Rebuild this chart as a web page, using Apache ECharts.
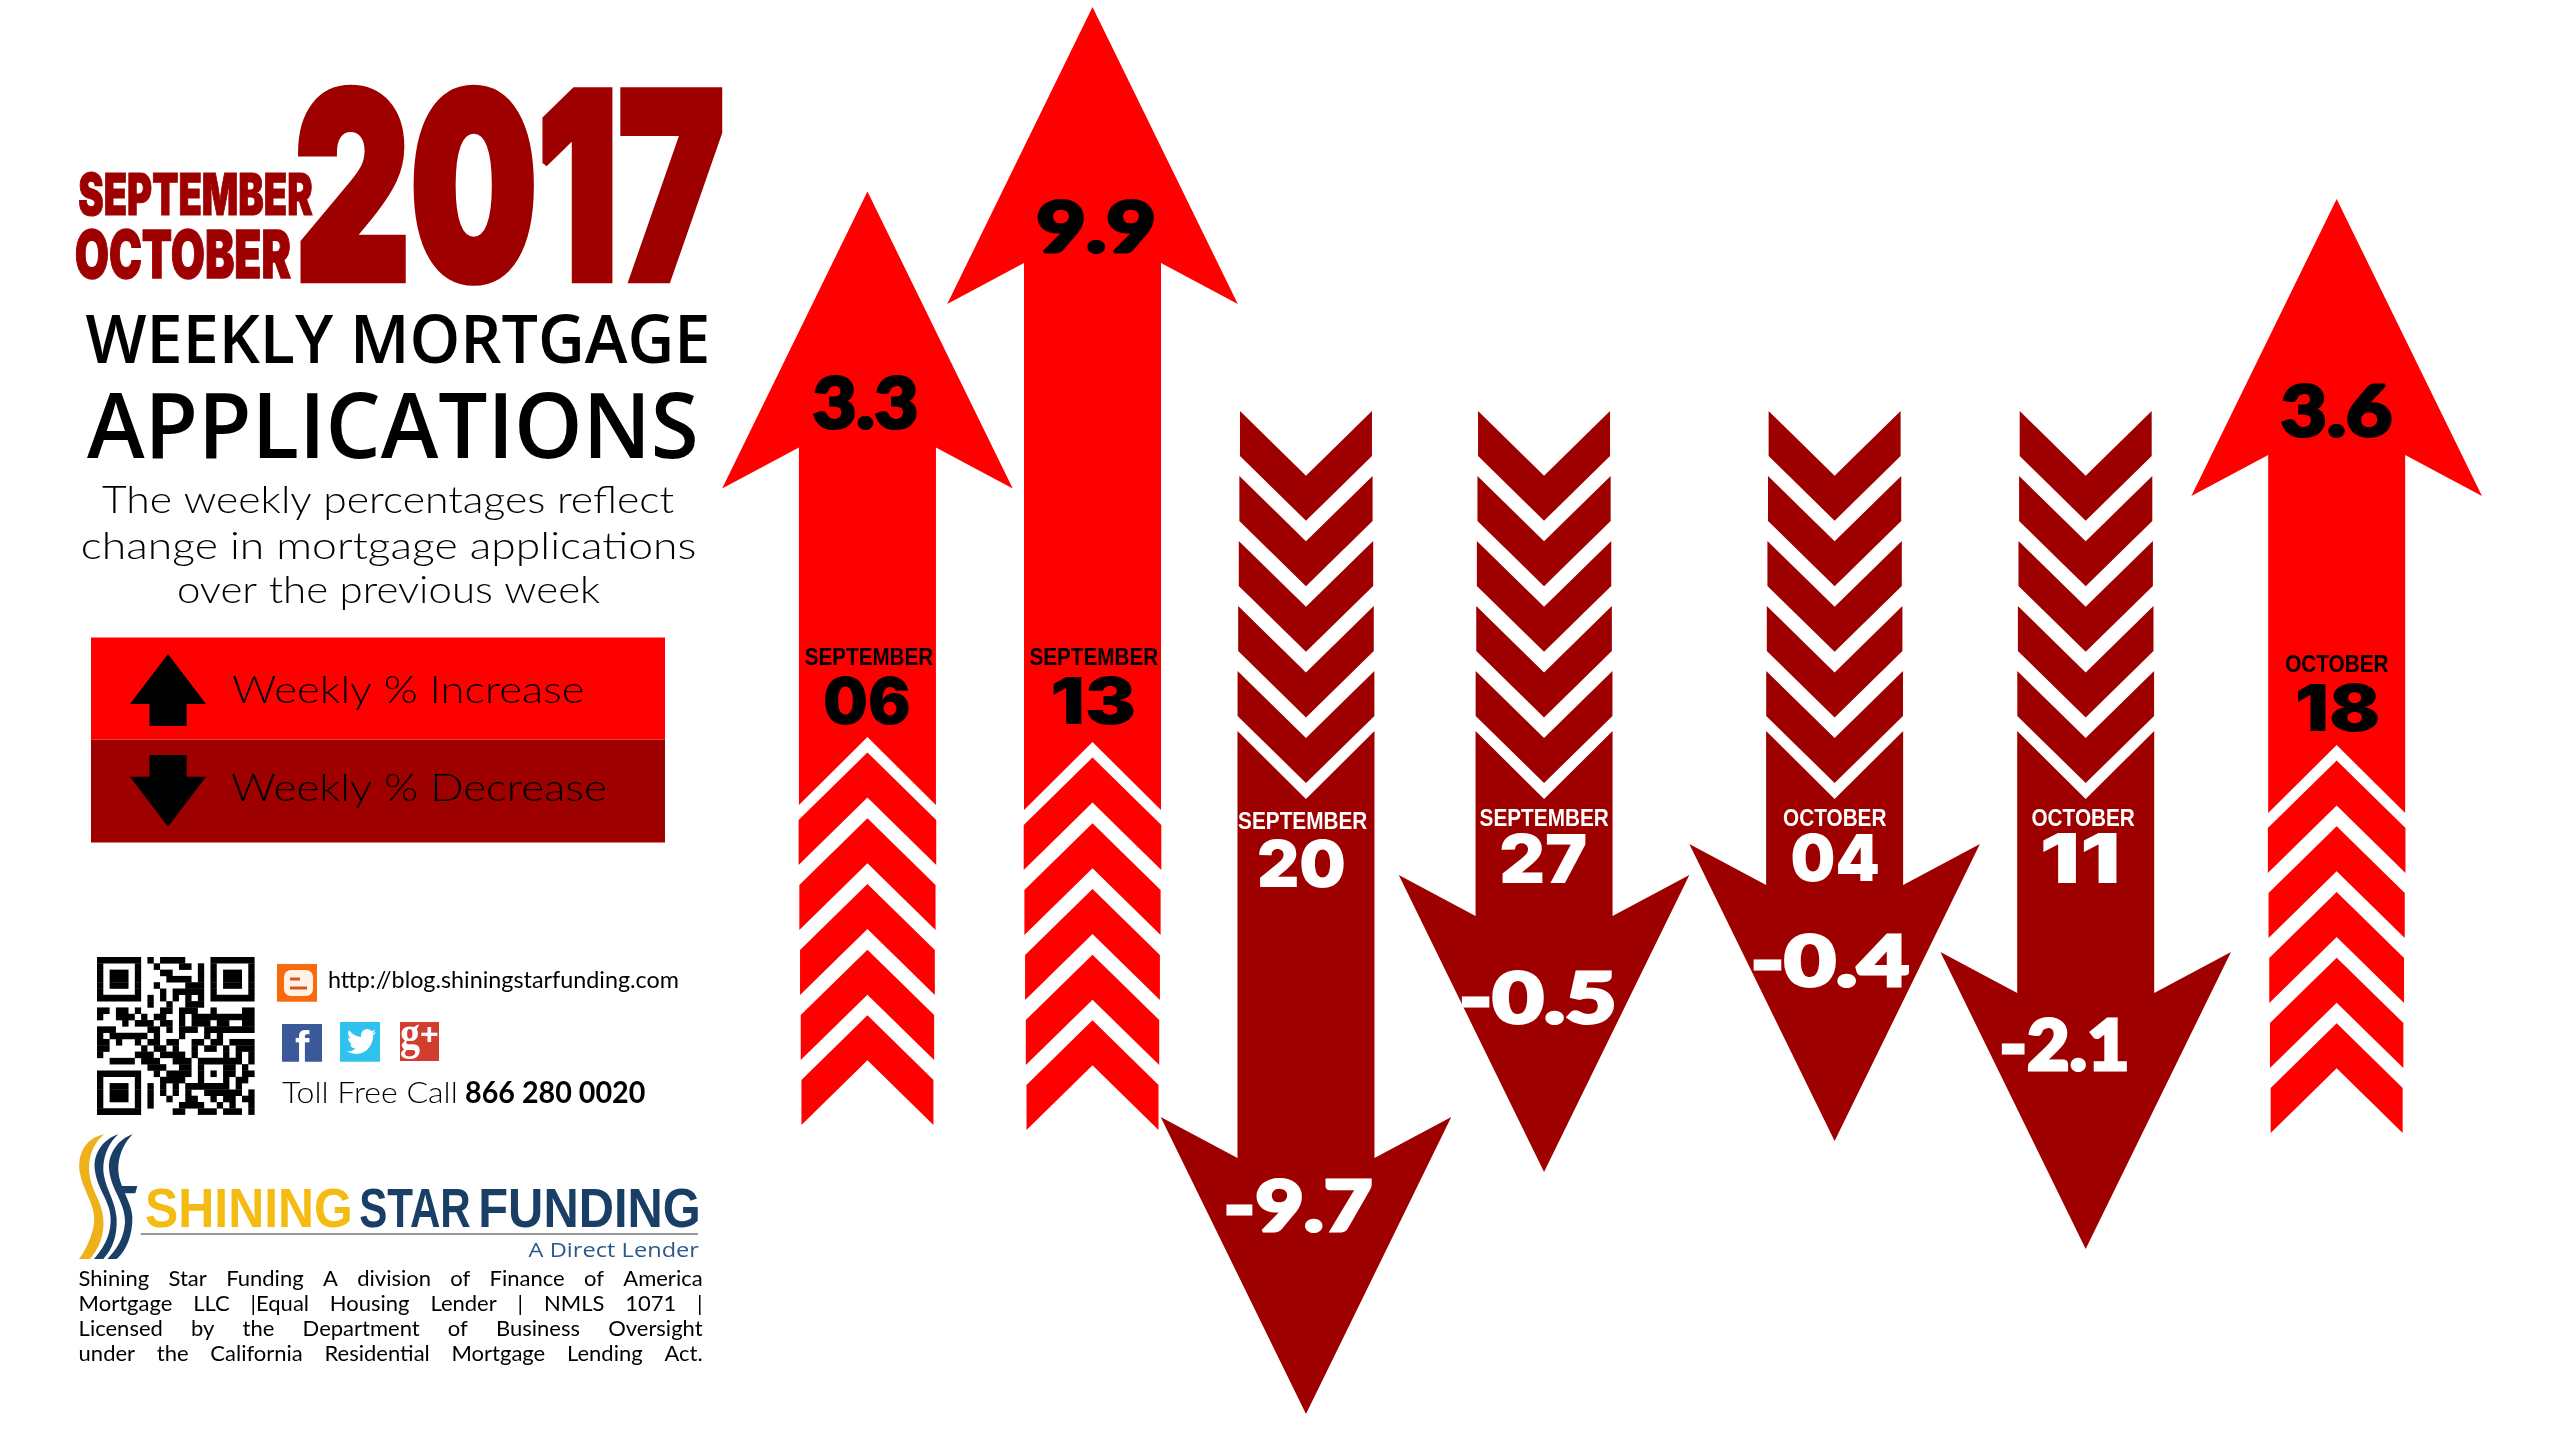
<!DOCTYPE html>
<html>
<head>
<meta charset="utf-8">
<title>Weekly Mortgage Applications</title>
<style>html,body{margin:0;padding:0;background:#fff}#chart{width:2550px;height:1440px}</style>
<script src="https://cdn.jsdelivr.net/npm/echarts@6/dist/echarts.min.js"></script>
</head>
<body>
<div id="chart"></div>
<script>
// ---- data ----
const months = ['SEPTEMBER','SEPTEMBER','SEPTEMBER','SEPTEMBER','OCTOBER','OCTOBER','OCTOBER'];
const days = ['06','13','20','27','04','11','18'];
const changes = [3.3, 9.9, -9.7, -0.5, -0.4, -2.1, 3.6];
// how far each arrow was drawn, on the picture's own hidden height scale
const tipLevels = [1248.5, 1433, 26, 268, 299, 191, 1241];
const tailLevels = [315, 310, 1029, 1029, 1029, 1029, 307];

// ---- layout / style, separate from the data ----
const RED = '#ff0000', DARK = '#9e0000';
const COL_NUDGE = [0, -19.8, -51.2, -58, -12.3, -6.1, 0];
const VALUE_BOX = [[-2.4,210.5,102],[3,219,113],[-7,-209,142],[-6,-175,149],[-3,-181,153],[-21,-205,123],[0,210.6,109]];
const MONTH_BOX = [[1.4,-468.5,128],[1.2,-473.5,128.5],[-3.4,409.6,129],[0,406,129],[0,406,103],[-2.7,406,103],[0,-469.5,103]];
const DAY_BOX = [[-0.4,-425,84],[1.2,-430,82],[-4.4,452,85],[0,446.5,85],[1,446.5,86],[-5.7,446.5,75],[1,-426,81]];
const VALUE_FONT = "900 60px Lato";
const DAY_FONT = "900 60px Inter";
const MONTH_FONT = "bold 24px 'Liberation Sans'";
const LIGHT = "Lato";
const QR_ROWS = [
"1111111"+"01011110000"+"1111111","1000001"+"00100011010"+"1000001","1011101"+"00011000010"+"1011101",
"1011101"+"00001111010"+"1011101","1011101"+"00100001110"+"1011101","1000001"+"00010111110"+"1000001",
"1111111"+"01010101010"+"1111111","0000000"+"01001001110"+"0000000","1101101"+"00011011100"+"1000011",
"1001110"+"10110010111"+"1111111","0000101"+"11011010111"+"0110011","1110000"+"01101011101"+"1111111",
"1011111"+"10100010001"+"0100000","1101001"+"01101100110"+"1101111","1100000"+"10110100101"+"1010111",
"1000001"+"11011110100"+"0010101","0011110"+"111001110"+"11111"+"1101","0000000"+"011100110"+"10001"+"1010",
"1111111"+"001011110"+"10101"+"1011","1000001"+"000111100"+"10001"+"0110","1011101"+"010101011"+"11111"+"0100",
"1011101"+"010101010"+"01111"+"1101","1011101"+"010010011"+"00101"+"1011","1000001"+"010000111"+"10010"+"1001",
"1111111"+"000001100"+"11101"+"1101"];
const FINE_PRINT = [
 "Shining Star Funding A division of Finance of America",
 "Mortgage LLC |Equal Housing Lender | NMLS 1071 |",
 "Licensed by the Department of Business Oversight",
 "under the California Residential Mortgage Lending Act."];

// ---- text helpers: fit real text to a measured ink box ----
const mctx = document.createElement('canvas').getContext('2d');
function ink(text, font) {
  mctx.font = font;
  mctx.textBaseline = 'middle';
  const m = mctx.measureText(text);
  mctx.textBaseline = 'alphabetic';
  const a = mctx.measureText(text);
  return { l: m.actualBoundingBoxLeft, r: m.actualBoundingBoxRight, a: m.actualBoundingBoxAscent,
           d: m.actualBoundingBoxDescent, off: m.actualBoundingBoxAscent - a.actualBoundingBoxAscent, adv: a.width };
}
function textEl(text, font, x, y, sx, sy, style) {
  return { type: 'text', x, y, scaleX: sx, scaleY: sy, silent: true,
    style: Object.assign({ text, font, fill: '#000', align: 'left', verticalAlign: 'middle',
      textAlign: 'left', textVerticalAlign: 'middle' }, style || {}) };
}
function boxText(text, font, x0, x1, y0, y1, style) {
  const k = ink(text, font);
  const sx = (x1 - x0) / (k.l + k.r), sy = (y1 - y0) / (k.a + k.d);
  return textEl(text, font, x0 + k.l * sx, y0 + k.a * sy, sx, sy, style);
}
function lineText(text, font, x0, x1, base, style) {
  const k = ink(text, font);
  const sx = (x1 - x0) / (k.l + k.r);
  return textEl(text, font, x0 + k.l * sx, base + k.off, sx, 1, style);
}
function justified(text, font, x0, x1, base, style) {
  const words = text.split(' ');
  const widths = words.map(w => ink(w, font).adv);
  const gap = (x1 - x0 - widths.reduce((a, b) => a + b, 0)) / (words.length - 1);
  const off = ink('x', font).off;
  let x = x0;
  return words.map((w, i) => { const el = textEl(w, font, x, base + off, 1, 1, style); x += widths[i] + gap; return el; });
}

// ---- arrows ----
function renderArrow(params, api) {
  const i = api.value(0);
  const tip = api.coord([i, api.value(1)]);
  const tail = api.coord([i, api.value(2)]);
  const v = changes[i];
  const cx = tip[0] + COL_NUDGE[i], tipY = tip[1], tailY = tail[1];
  const dir = v < 0 ? 1 : -1;
  const color = v < 0 ? DARK : RED, ink2 = v < 0 ? '#fff' : '#000';
  const hw = 68.5, wing = 145.3;
  const wingY = tipY - dir * 297, shY = wingY + dir * 41;
  const sideY = tailY + dir * 320, notchY = sideY + dir * 68;
  const children = [{
    type: 'polygon', silent: true, style: { fill: color },
    shape: { points: [[cx - hw, sideY], [cx, notchY], [cx + hw, sideY], [cx + hw, shY], [cx + wing, wingY], [cx, tipY], [cx - wing, wingY], [cx - hw, shY]] }
  }];
  for (let k = 0; k < 5; k++) {
    const h = (v < 0 ? 66 + k * 0.6 : 66 + k * 0.7), s = tailY + dir * 65 * k, rise = h * 0.98;
    children.push({ type: 'polygon', silent: true, style: { fill: color },
      shape: { points: [[cx - h, s], [cx, s + dir * rise], [cx + h, s], [cx + h, s + dir * 45], [cx, s + dir * (rise + 45)], [cx - h, s + dir * 45]] } });
  }
  const vb = VALUE_BOX[i], mb = MONTH_BOX[i], db = DAY_BOX[i];
  const valY = tipY + vb[1], mY = tailY + mb[1], dY = tailY + db[1];
  const thick = { stroke: ink2, lineWidth: 2.6 };
  children.push(boxText(String(v), VALUE_FONT, cx + vb[0] - vb[2] / 2, cx + vb[0] + vb[2] / 2, valY - 26, valY + 26, Object.assign({ fill: ink2 }, thick)));
  children.push(boxText(months[i], MONTH_FONT, cx + mb[0] - mb[2] / 2, cx + mb[0] + mb[2] / 2, mY - 8.5, mY + 8.5, { fill: ink2 }));
  children.push(boxText(days[i], DAY_FONT, cx + db[0] - db[2] / 2, cx + db[0] + db[2] / 2, dY - 25, dY + 25, { fill: ink2 }));
  return { type: 'group', children };
}

// ---- static panel ----
const SHADOW = { shadowColor: 'rgba(0,0,0,0.65)', shadowBlur: 5, shadowOffsetX: 3, shadowOffsetY: 3 };
const IMPACT = "900 100px Inter";
const panel = [];
panel.push(boxText('2017', IMPACT, 300, 720, 88, 282, Object.assign({ fill: DARK, stroke: DARK, lineWidth: 3 }, SHADOW)));
panel.push(boxText('SEPTEMBER', IMPACT, 79, 312.5, 173, 216, Object.assign({ fill: DARK, stroke: DARK, lineWidth: 2 }, SHADOW)));
panel.push(boxText('OCTOBER', IMPACT, 76, 290.5, 229.5, 279, Object.assign({ fill: DARK, stroke: DARK, lineWidth: 2 }, SHADOW)));
panel.push(boxText('WEEKLY MORTGAGE', "600 60px 'Open Sans'", 85.6, 706.5, 314, 364));
panel.push(boxText('APPLICATIONS', "600 80px 'Open Sans'", 87, 695.5, 392.5, 459.5));
panel.push(lineText('The weekly percentages reflect', `300 38px ${LIGHT}`, 102, 674, 513));
panel.push(lineText('change in mortgage applications', `300 38px ${LIGHT}`, 82, 695, 559));
panel.push(lineText('over the previous week', `300 38px ${LIGHT}`, 178, 600, 603));

// legend block
panel.push({ type: 'rect', silent: true, shape: { x: 91, y: 637.5, width: 574, height: 102 }, style: { fill: RED } });
panel.push({ type: 'rect', silent: true, shape: { x: 91, y: 739.5, width: 574, height: 103 }, style: { fill: DARK } });
panel.push({ type: 'polygon', silent: true, shape: { points: [[168,654],[206,704],[186.6,704],[186.6,726],[149.5,726],[149.5,704],[130,704]] }, style: { fill: '#000' } });
panel.push({ type: 'polygon', silent: true, shape: { points: [[168,826.7],[206,776.7],[186.6,776.7],[186.6,755],[149.5,755],[149.5,776.7],[130,776.7]] }, style: { fill: '#000' } });
panel.push(lineText('Weekly % Increase', `300 38px ${LIGHT}`, 232, 583.5, 703.3));
panel.push(lineText('Weekly % Decrease', `300 38px ${LIGHT}`, 231, 606, 800.7));

// QR code
const qrUnit = 157.6 / 25;
QR_ROWS.forEach((row, r) => {
  for (let c = 0; c < row.length; c++) {
    if (row[c] === '1') {
      let e = c; while (row[e + 1] === '1') e++;
      panel.push({ type: 'rect', silent: true, shape: { x: 97 + c * qrUnit, y: 957 + r * qrUnit, width: (e - c + 1) * qrUnit, height: qrUnit + 0.3 }, style: { fill: '#000' } });
      c = e;
    }
  }
});

// contact icons
panel.push({ type: 'rect', silent: true, shape: { x: 277, y: 964, width: 40, height: 37.7 }, style: { fill: '#f96a0e' } });
panel.push({ type: 'rect', silent: true, shape: { x: 284, y: 970, width: 29, height: 26, r: 7 }, style: { fill: '#fff3e6' } });
panel.push({ type: 'rect', silent: true, shape: { x: 290, y: 977.5, width: 10, height: 3 }, style: { fill: '#d9531e' } });
panel.push({ type: 'rect', silent: true, shape: { x: 290, y: 986.5, width: 17, height: 3 }, style: { fill: '#d9531e' } });
panel.push({ type: 'rect', silent: true, shape: { x: 282, y: 1024, width: 40, height: 37.7 }, style: { fill: '#3b5998' } });
panel.push(boxText('f', "bold 40px 'Liberation Sans'", 295, 310, 1029, 1061.7, { fill: '#fff' }));
panel.push({ type: 'rect', silent: true, shape: { x: 340, y: 1022, width: 40, height: 39.7 }, style: { fill: '#2fc2ef' } });
panel.push({ type: 'path', silent: true, shape: { pathData: 'M23.95 4.57a10 10 0 0 1-2.82.77 4.96 4.96 0 0 0 2.16-2.72c-.95.56-2 .96-3.13 1.19a4.92 4.92 0 0 0-8.38 4.48C7.69 8.09 4.07 6.13 1.64 3.16a4.82 4.82 0 0 0-.67 2.48c0 1.71.87 3.21 2.19 4.1a4.9 4.9 0 0 1-2.23-.62v.06c0 2.39 1.7 4.38 3.95 4.83a5 5 0 0 1-2.21.08 4.94 4.94 0 0 0 4.6 3.42A9.87 9.87 0 0 1 0 19.54a14 14 0 0 0 7.56 2.21c9.05 0 14-7.5 14-13.98 0-.21 0-.42-.01-.63A9.94 9.94 0 0 0 24 4.59z', layout: 'cover', x: 347, y: 1029, width: 29, height: 25 }, style: { fill: '#fff' } });
panel.push({ type: 'rect', silent: true, shape: { x: 400, y: 1022, width: 39, height: 39 }, style: { fill: '#d13d2f' } });
panel.push(boxText('g', "bold 40px 'Liberation Serif'", 401, 420, 1023, 1060, { fill: '#fff' }));
panel.push(boxText('+', "bold 30px 'Liberation Sans'", 421, 438, 1026, 1042, { fill: '#fff' }));
panel.push(lineText('http://blog.shiningstarfunding.com', `400 23px ${LIGHT}`, 329, 678, 988));
panel.push(lineText('Toll Free Call', `300 30px ${LIGHT}`, 282, 456, 1103.3));
panel.push(lineText('866 280 0020', "bold 30px Lato", 466, 645, 1103.3));

// logo
const NAVY = '#1a3f66';
const swoosh = [
 ['M103,28 C40,40 20,100 32,150 C45,210 85,250 70,310 C62,345 45,380 28,402 L60,402 C85,375 105,330 100,280 C95,220 55,190 58,120 C60,80 80,45 103,28 Z', '#eeb11a', 79, 104.3, 1134.3, 1259],
 ['M145,28 C100,42 70,85 74,130 C80,195 125,230 122,290 C120,340 95,375 72,402 L100,402 C130,370 142,330 140,280 C136,220 98,180 100,125 C102,85 120,50 145,28 Z', NAVY, 94, 118.3, 1134.3, 1259],
 ['M188,28 C145,42 115,85 117,130 C122,195 165,230 165,290 C163,340 138,375 112,402 L140,402 C170,375 188,330 187,275 C184,225 142,180 145,125 C147,85 165,50 188,28 Z', NAVY, 107.3, 132.7, 1134.3, 1259],
 ['M148,183 L202,183 L196,205 L160,205 Z', NAVY, 119.3, 137.3, 1186, 1193.3]
];
swoosh.forEach(s => panel.push({ type: 'path', silent: true,
  shape: { pathData: s[0], layout: 'cover', x: s[2], y: s[4], width: s[3] - s[2], height: s[5] - s[4] }, style: { fill: s[1] } }));
const LOGO = "bold 54px 'Liberation Sans'";
panel.push(boxText('SHINING', LOGO, 146, 350, 1188, 1228, { fill: '#f4bb12' }));
panel.push(boxText('STAR', LOGO, 360, 470, 1188, 1228, { fill: NAVY }));
panel.push(boxText('FUNDING', LOGO, 481, 698, 1188, 1228, { fill: NAVY }));
panel.push({ type: 'rect', silent: true, shape: { x: 140.6, y: 1233, width: 557.4, height: 2 }, style: { fill: '#999' } });
panel.push(boxText('A Direct Lender', "22px 'Open Sans'", 528.6, 699, 1242, 1257, { fill: '#2b5a88' }));
FINE_PRINT.forEach((line, i) => {
  justified(line, `400 22px ${LIGHT}`, 78.6, 702.6, 1285.5 + i * 25).forEach(el => panel.push(el));
});

// ---- chart ----
const arrowData = days.map((d, i) => [months[i] + ' ' + d, tipLevels[i], tailLevels[i], changes[i]]);
const chart = echarts.init(document.getElementById('chart'), null, { renderer: 'canvas', width: 2550, height: 1440 });
chart.setOption({
  animation: false,
  backgroundColor: '#fff',
  grid: { left: 745, right: 90.9, top: 0, bottom: 0, containLabel: false },
  xAxis: { type: 'category', data: days.map((d, i) => months[i] + ' ' + d), show: false },
  yAxis: { type: 'value', min: 0, max: 1440, show: false },
  series: [
    { type: 'custom', name: 'Weekly % change', coordinateSystem: 'cartesian2d', clip: false, silent: true,
      encode: { x: 0, y: 1 }, data: arrowData, renderItem: renderArrow },
    { type: 'custom', name: 'Panel', coordinateSystem: 'none', silent: true, data: [[0]],
      renderItem: () => ({ type: 'group', children: panel }) }
  ]
});
</script>
</body>
</html>
